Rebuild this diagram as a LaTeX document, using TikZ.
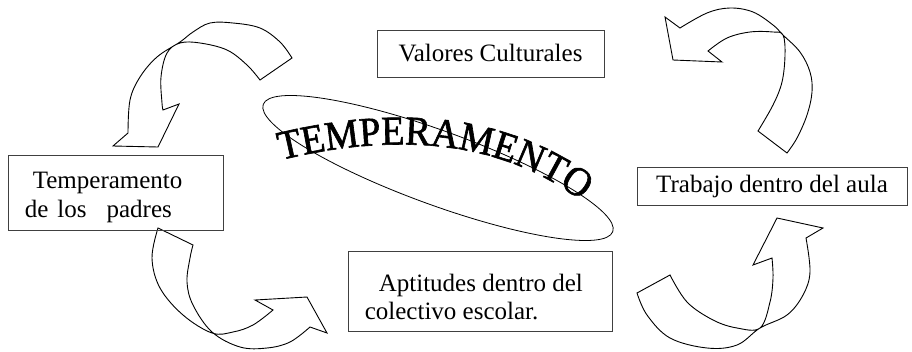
\documentclass[tikz,border=0pt]{standalone}
\usepackage{fontspec}
\setmainfont{Liberation Serif}
\newfontfamily\titlefont[FakeBold=1.5, FakeStretch=0.93]{Liberation Serif}
\usetikzlibrary{decorations.text}
\begin{document}
\begin{tikzpicture}[x=1pt,y=1pt,
  boxnode/.style={draw=black!75, line width=0.8pt, inner ysep=0pt, inner xsep=17pt,
    font=\fontsize{25}{28}\selectfont},
  boxframe/.style={draw=black!75, line width=0.8pt, inner sep=0pt},
  boxtext/.style={inner sep=0pt, align=left, anchor=west, font=\fontsize{25}{28.5}\selectfont},
  curvedarrow/.style={draw=black, line width=0.9pt, fill=white, line join=miter}]
\useasboundingbox (0,0) rectangle (912,-351);

% ---- curved block arrows ----
% top-left
\draw[curvedarrow] plot[smooth, tension=0.6] coordinates {(292,-58) (280,-42) (260,-28) (233,-23) (210,-23) (193,-32) (180,-42) (157,-57) (140,-77) (130,-100) (128,-133)}
  -- (113,-146) -- (158,-147) -- (179,-104)
  -- plot[smooth, tension=0.6] coordinates {(163,-110) (162,-103) (161,-77) (167,-53) (180,-43) (200,-43) (227,-50) (247,-65) (260,-80)}
  -- cycle;
% bottom-left
\draw[curvedarrow] plot[smooth, tension=0.6] coordinates {(193,-245) (190,-258) (187,-282) (193,-305) (212,-332) (240,-347) (267,-348) (290,-342) (310,-327)}
  -- (327,-333) -- (307,-297) -- (255,-300)
  -- plot[smooth, tension=0.6] coordinates {(273,-310) (253,-325) (233,-332) (212,-333) (183,-315) (160,-288) (152,-258) (158,-228)}
  -- cycle;
% top-right
\draw[curvedarrow] plot[smooth, tension=0.6] coordinates {(680,-28) (707,-13) (730,-8) (753,-12) (773,-25) (783,-35) (800,-52) (810,-72) (812,-92) (807,-115) (797,-138) (787,-153)}
  -- plot[smooth, tension=0.6] coordinates {(758,-131) (773,-105) (782,-82) (785,-55) (783,-35) (773,-32) (750,-32) (727,-38) (708,-51)}
  -- (722,-62) -- (673,-60) -- (665,-17) -- cycle;
% bottom-right
\draw[curvedarrow] plot[smooth, tension=0.6] coordinates {(670,-275) (687,-302) (713,-320) (737,-328) (760,-328) (770,-302) (773,-278) (772,-258)}
  -- (753,-265) -- (777,-218) -- (823,-228)
  -- plot[smooth, tension=0.6] coordinates {(806,-238) (810,-272) (803,-295) (787,-315) (760,-328) (737,-345) (707,-348) (670,-338) (647,-315) (637,-293)}
  -- cycle;

% ---- ellipse and arched title ----
\draw[line width=0.8pt, rotate around={-20:(438,-168)}] (438,-168) ellipse [x radius=186pt, y radius=37pt];
\path[decorate, decoration={text along path, text align=left,
    text={|\titlefont\fontsize{41}{41}\selectfont|TEMPERAMENTO}}]
  (281,-160) .. controls (380,-136) and (495,-132) .. (588,-206);

% ---- boxes ----
\node[boxnode, minimum width=227pt, minimum height=47pt] (valores) at (490.5,-53.5) {Valores Culturales};
\node[boxnode, minimum width=270pt, minimum height=38pt] (trabajo) at (772,-186) {Trabajo dentro del aula};

\node[boxframe, minimum width=215pt, minimum height=75pt] (padres) at (115.5,-192.5) {};
\node[boxtext] (padrestext) at ([xshift=17pt, yshift=-5pt]padres.west)
  {\hspace*{8pt}Temperamento\\de\hspace{9pt}los\hspace{20pt}padres};

\node[boxframe, minimum width=264pt, minimum height=80pt] (aptitudes) at (480,-291) {};
\node[boxtext] (aptitudestext) at ([xshift=17pt, yshift=-6pt]aptitudes.west)
  {\hspace*{14pt}Aptitudes dentro del\\colectivo escolar.};
\end{tikzpicture}
\end{document}
